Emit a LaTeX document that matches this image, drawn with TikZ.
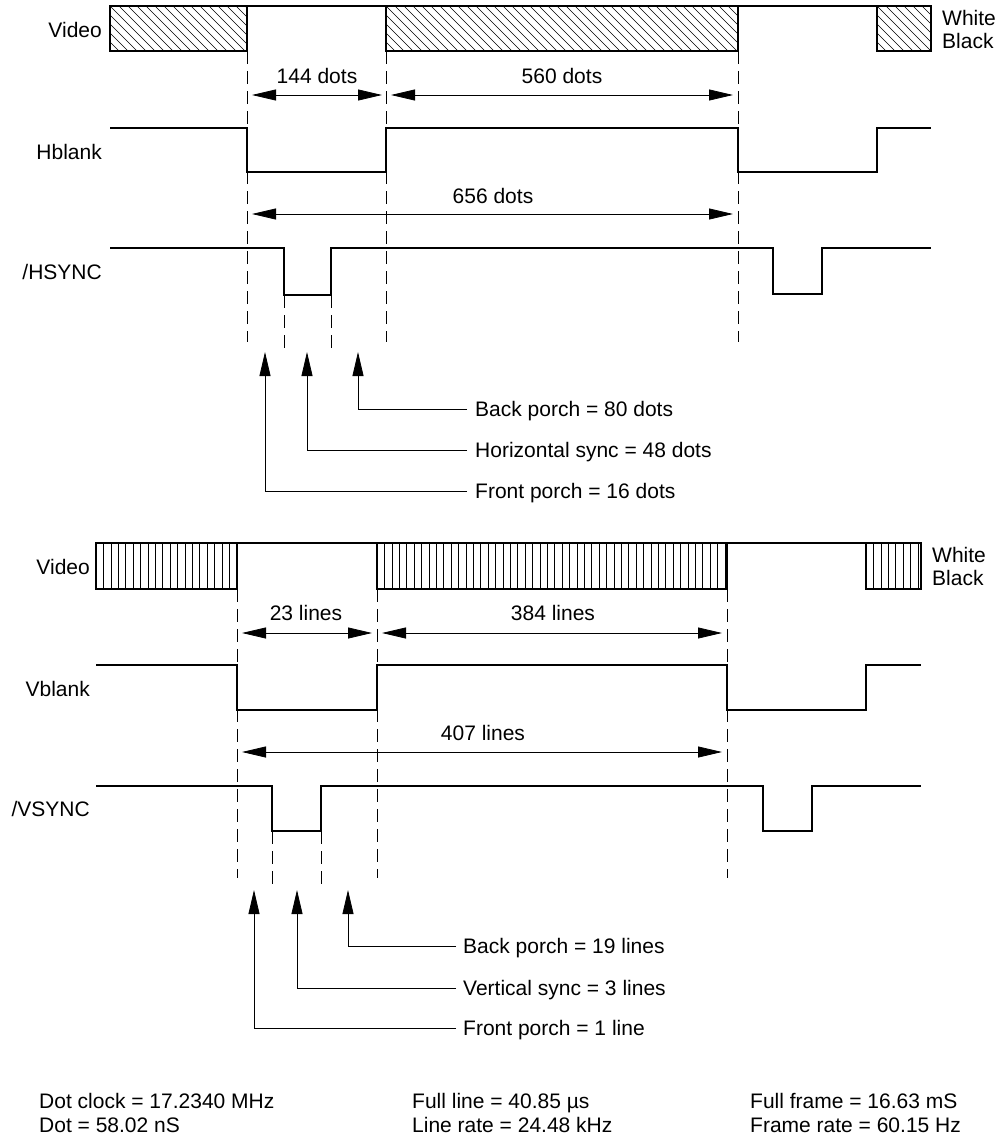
\documentclass[tikz,border=0pt]{standalone}
\usepackage{fontspec}
\setmainfont{Liberation Sans}
\usetikzlibrary{arrows.meta}
\newcommand{\diagHatch}[4]{%
  \begin{scope}
    \clip (#1,#3) rectangle (#2,#4);
    \foreach \k in {-6,...,45} \draw[hatchline] (#1+\k*9,#3) -- ++(46,46);
  \end{scope}
  \draw[boxline] (#1,#3) rectangle (#2,#4);}
\newcommand{\vertHatch}[4]{%
  \begin{scope}
    \clip (#1,#3) rectangle (#2,#4);
    \foreach \k in {0,...,60} \draw[hatchline] (#1+\k*7.4,#3) -- ++(0,50);
  \end{scope}
  \draw[boxline] (#1,#3) rectangle (#2,#4);}
\begin{document}
\begin{tikzpicture}[x=1pt,y=-1pt,
  sig/.style={line width=1.4pt},
  boxline/.style={line width=1.1pt},
  hatchline/.style={line width=0.6pt},
  guide/.style={line width=0.7pt, dash pattern=on 13pt off 7pt},
  tipT/.tip={Triangle[length=24pt,width=11pt]},
  dim/.style={line width=0.8pt, tipT-tipT},
  pointer/.style={line width=0.8pt, -tipT},
  lbl/.style={font=\fontsize{21}{25}\selectfont, inner sep=0pt, text height=15pt, text depth=0pt},
]
\useasboundingbox (0,0) rectangle (998,1140);

% ================= horizontal timing =================
% Video
\draw[boxline] (110,6) -- (931,6);
\diagHatch{110}{247}{6}{51}
\diagHatch{386}{738}{6}{51}
\diagHatch{877}{931}{6}{51}
\node[lbl, anchor=east] (v1) at (102,30) {Video};
\node[lbl, anchor=west] (w1) at (942,18) {White};
\node[lbl, anchor=west] (b1) at (942,41) {Black};

% guides
\draw[guide] (247,51) -- (247,342);
\draw[guide] (386,51) -- (386,342);
\draw[guide] (738,51) -- (738,342);
\draw[guide] (284,295) -- (284,348);
\draw[guide] (331,295) -- (331,348);

% dimension arrows
\coordinate (h1a) at (252,95); \coordinate (h1b) at (382,95);
\coordinate (h2a) at (391,95); \coordinate (h2b) at (733,95);
\coordinate (h3a) at (252,214); \coordinate (h3b) at (733,214);
\draw[dim] (h1a) -- (h1b);
\draw[dim] (h2a) -- (h2b);
\draw[dim] (h3a) -- (h3b);
\node[lbl] (d144) at (317,76) {144 dots};
\node[lbl] (d560) at (562,76) {560 dots};
\node[lbl] (d656) at (493,196) {656 dots};

% Hblank
\node[lbl, anchor=east] (hb) at (102,152) {Hblank};
\draw[sig] (110,128) -- (247,128) -- (247,172) -- (386,172) -- (386,128) -- (738,128)
  -- (738,172) -- (877,172) -- (877,128) -- (931,128);

% /HSYNC
\node[lbl, anchor=east] (hsy) at (102,272) {/HSYNC};
\draw[sig] (110,248) -- (284,248) -- (284,295) -- (331,295) -- (331,248) -- (773,248)
  -- (773,294) -- (822,294) -- (822,248) -- (931,248);

% pointers
\coordinate (fpt1) at (265,352);
\coordinate (hst1) at (307,352);
\coordinate (bpt1) at (358,352);
\node[lbl, anchor=west] (bp1) at (475,409) {Back porch = 80 dots};
\node[lbl, anchor=west] (hs1) at (475,450) {Horizontal sync = 48 dots};
\node[lbl, anchor=west] (fp1) at (475,491) {Front porch = 16 dots};
\draw[pointer] ([xshift=-8pt]bp1.west) -| (bpt1);
\draw[pointer] ([xshift=-8pt]hs1.west) -| (hst1);
\draw[pointer] ([xshift=-8pt]fp1.west) -| (fpt1);

% ================= vertical timing =================
\draw[boxline] (96,543) -- (921,543);
\vertHatch{96}{237}{543}{589}
\vertHatch{377}{727}{543}{589}
\vertHatch{866}{921}{543}{589}
\node[lbl, anchor=east] (v2) at (90,567) {Video};
\node[lbl, anchor=west] (w2) at (932,555) {White};
\node[lbl, anchor=west] (b2) at (932,578) {Black};

\draw[guide] (237,589) -- (237,878);
\draw[guide] (377,589) -- (377,878);
\draw[guide] (727,589) -- (727,878);
\draw[guide] (272,831) -- (272,886);
\draw[guide] (321,831) -- (321,886);

\coordinate (l1a) at (242,633); \coordinate (l1b) at (372,633);
\coordinate (l2a) at (382,633); \coordinate (l2b) at (722,633);
\coordinate (l3a) at (242,752); \coordinate (l3b) at (722,752);
\draw[dim] (l1a) -- (l1b);
\draw[dim] (l2a) -- (l2b);
\draw[dim] (l3a) -- (l3b);
\node[lbl] (d23) at (306,613) {23 lines};
\node[lbl] (d384) at (553,613) {384 lines};
\node[lbl] (d407) at (483,733) {407 lines};

\node[lbl, anchor=east] (vb) at (90,689) {Vblank};
\draw[sig] (96,665) -- (237,665) -- (237,710) -- (377,710) -- (377,665) -- (727,665)
  -- (727,710) -- (866,710) -- (866,665) -- (921,665);

\node[lbl, anchor=east] (vsy) at (90,809) {/VSYNC};
\draw[sig] (96,786) -- (272,786) -- (272,831) -- (321,831) -- (321,786) -- (763,786)
  -- (763,831) -- (812,831) -- (812,786) -- (921,786);

\coordinate (fpt2) at (254,890);
\coordinate (vst2) at (297,890);
\coordinate (bpt2) at (348,890);
\node[lbl, anchor=west] (bp2) at (463,946) {Back porch = 19 lines};
\node[lbl, anchor=west] (vs2) at (463,988) {Vertical sync = 3 lines};
\node[lbl, anchor=west] (fp2) at (463,1028) {Front porch = 1 line};
\draw[pointer] ([xshift=-7pt]bp2.west) -| (bpt2);
\draw[pointer] ([xshift=-7pt]vs2.west) -| (vst2);
\draw[pointer] ([xshift=-7pt]fp2.west) -| (fpt2);

% ================= summary =================
\node[lbl, anchor=west] (s1) at (39,1101) {Dot clock = 17.2340 MHz};
\node[lbl, anchor=west] (s2) at (39,1125) {Dot = 58.02 nS};
\node[lbl, anchor=west] (s3) at (412,1101) {Full line = 40.85 µs};
\node[lbl, anchor=west] (s4) at (412,1125) {Line rate = 24.48 kHz};
\node[lbl, anchor=west] (s5) at (750,1101) {Full frame = 16.63 mS};
\node[lbl, anchor=west] (s6) at (750,1125) {Frame rate = 60.15 Hz};
\end{tikzpicture}
\end{document}
